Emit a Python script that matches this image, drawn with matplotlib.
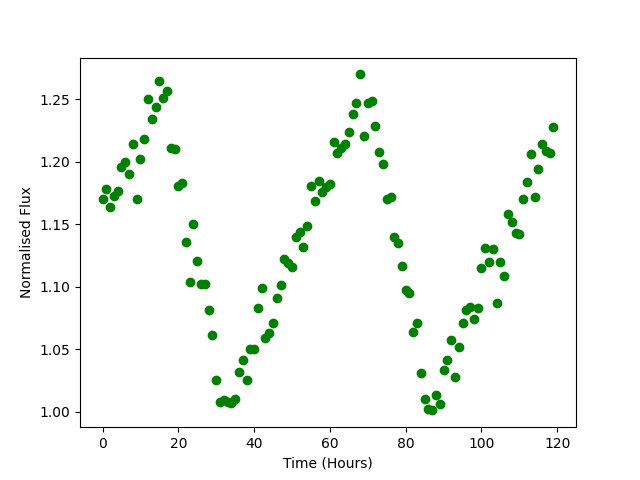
import numpy as np
import matplotlib
matplotlib.use('Agg')
import matplotlib.pyplot as plt

time = [0, 1, 2, 3, 4, 5, 6, 7, 8, 9,
	10, 11, 12, 13, 14, 15, 16, 17, 18, 19,
	20, 21, 22, 23, 24, 25, 26, 27, 28, 29,
	30, 31, 32, 33, 34, 35, 36, 37, 38, 39,
	40, 41, 42, 43, 44, 45, 46, 47, 48, 49,
	50, 51, 52, 53, 54, 55, 56, 57, 58, 59,
	60, 61, 62, 63, 64, 65, 66, 67, 68, 69,
	70, 71, 72, 73, 74, 75, 76, 77, 78, 79,
	80, 81, 82, 83, 84, 85, 86, 87, 88, 89,
	90, 91, 92, 93, 94, 95, 96, 97, 98, 99,
	100, 101, 102, 103, 104, 105, 106, 107, 108, 109,
	110, 111, 112, 113, 114, 115, 116, 117, 118, 119]

flux = [1.170, 1.178, 1.164, 1.173, 1.177, 1.196, 1.200, 1.190, 1.214, 1.170,
	1.202, 1.218, 1.250, 1.234, 1.244, 1.265, 1.251, 1.257, 1.211, 1.210,
	1.181, 1.183, 1.136, 1.104, 1.150, 1.121, 1.102, 1.102, 1.081, 1.061,
	1.025, 1.008, 1.009, 1.008, 1.007, 1.010, 1.032, 1.041, 1.025, 1.050,
	1.050, 1.083, 1.099, 1.059, 1.063, 1.071, 1.091, 1.101, 1.122, 1.119,
	1.116, 1.140, 1.144, 1.132, 1.149, 1.181, 1.169, 1.185, 1.176, 1.180,
	1.182, 1.216, 1.207, 1.211, 1.214, 1.224, 1.238, 1.247, 1.270, 1.221,
	1.247, 1.249, 1.229, 1.208, 1.198, 1.170, 1.172, 1.140, 1.135, 1.117,
	1.097, 1.095, 1.064, 1.071, 1.031, 1.010, 1.002, 1.001, 1.013, 1.006,
	1.033, 1.041, 1.057, 1.028, 1.052, 1.071, 1.081, 1.084, 1.074, 1.083,
	1.115, 1.131, 1.120, 1.130, 1.087, 1.120, 1.109, 1.158, 1.152, 1.143,
	1.142, 1.170, 1.184, 1.206, 1.172, 1.194, 1.214, 1.209, 1.207, 1.228]

def main():
	plt.figure(figsize=(6.4, 4.8), dpi=100)
	plt.plot(time, flux, 'go')
	plt.xlabel('Time (Hours)')
	plt.ylabel('Normalised Flux')
	plt.savefig('out.png')

if __name__ == "__main__":
    main()
